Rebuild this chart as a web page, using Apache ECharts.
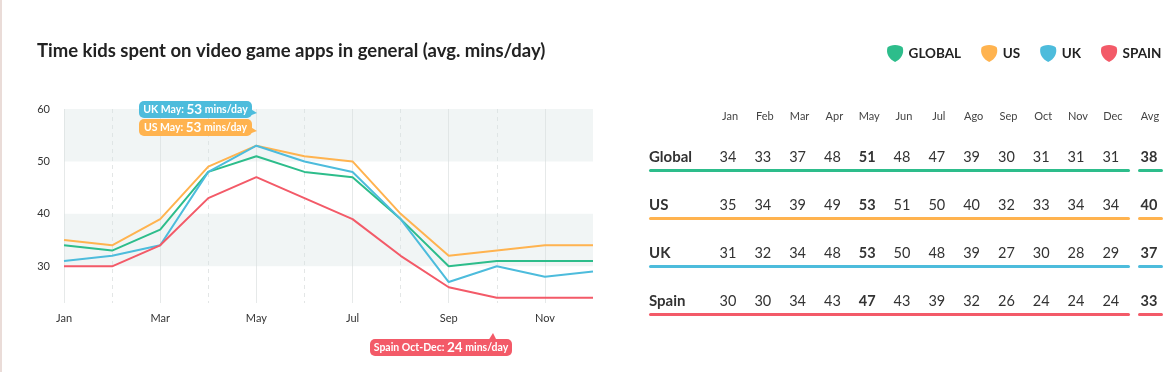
<!DOCTYPE html>
<html><head><meta charset="utf-8">
<script src="https://cdn.jsdelivr.net/npm/echarts@6/dist/echarts.min.js"></script>
<style>html,body{margin:0;padding:0;background:#fff}#c{width:1176px;height:372px}</style>
</head><body><div id="c"></div>
<script>
const axisMonths = ['Jan','Feb','Mar','Apr','May','Jun','Jul','Aug','Sep','Oct','Nov','Dec'];
const tableMonths = ['Jan','Feb','Mar','Apr','May','Jun','Jul','Ago','Sep','Oct','Nov','Dec'];
const seriesNames = ['GLOBAL','US','UK','SPAIN'];
const rowLabels = ['Global','US','UK','Spain'];
const globalData = [34,33,37,48,51,48,47,39,30,31,31,31];
const usData = [35,34,39,49,53,51,50,40,32,33,34,34];
const ukData = [31,32,34,48,53,50,48,39,27,30,28,29];
const spainData = [30,30,34,43,47,43,39,32,26,24,24,24];
const avgData = [38,40,37,33];
const yTicks = [30,40,50,60];
const colors = ['#2dbd8b','#ffb34f','#4dbcdc','#f35a68'];
const FONT = 'Lato';
const allData = [globalData, usData, ukData, spainData];

const blob = 'path://M2,4 C5,0 17,0 20,4 C22,11 18,18 11,21 C4,18 0,11 2,4 Z';

const graphic = [];
// left edge artifact
graphic.push({type:'rect', left:0, top:0, shape:{width:2, height:372}, style:{fill:'#eadcd8'}, silent:true});
// table header
const colX = i => 728 + i * 34.8;
tableMonths.forEach((m, i) => {
  graphic.push({type:'text', x: colX(i) + 2, y: 116, style:{text:m, font:'11px ' + FONT, fill:'#444', align:'center', verticalAlign:'middle'}});
});
graphic.push({type:'text', x: 1150, y: 116, style:{text:'Avg', font:'11px ' + FONT, fill:'#444', align:'center', verticalAlign:'middle'}});
const rowY = [157, 205, 253, 301];
rowLabels.forEach((lab, r) => {
  const y = rowY[r];
  graphic.push({type:'text', x: 649, y, style:{text:lab, font:'bold 15px ' + FONT, fill:'#333', align:'left', verticalAlign:'middle'}});
  allData[r].forEach((v, i) => {
    graphic.push({type:'text', x: colX(i), y, style:{text:String(v), font:(i === 4 ? 'bold ' : '') + '14.5px ' + FONT, fill:'#333', align:'center', verticalAlign:'middle'}});
  });
  graphic.push({type:'text', x: 1149, y, style:{text:String(avgData[r]), font:'bold 14.5px ' + FONT, fill:'#333', align:'center', verticalAlign:'middle'}});
  graphic.push({type:'rect', shape:{x:649, y:y + 12, width:481, height:3, r:1.5}, style:{fill:colors[r]}});
  graphic.push({type:'rect', shape:{x:1138, y:y + 12, width:25, height:3, r:1.5}, style:{fill:colors[r]}});
});
// callouts
function callout(x, y, w, pre, num, post, color, ptr) {
  graphic.push({type:'polygon', shape:{points:ptr}, style:{fill:color}, z:10});
  graphic.push({type:'rect', shape:{x, y, width:w, height:17, r:5}, style:{fill:color}, z:10});
  graphic.push({type:'text', x: x + w / 2, y: y + 9, z:11, style:{
    text:'{a|' + pre + '}{b|' + num + '}{a|' + post + '}', align:'center', verticalAlign:'middle',
    rich:{a:{font:'bold 10.5px ' + FONT, fill:'#fff'}, b:{font:'bold 13.5px ' + FONT, fill:'#fff'}}
  }});
}
callout(139, 101, 113, 'UK May: ', String(ukData[4]), ' mins/day', colors[2], [[249,108],[257,113],[249,116]]);
callout(139, 119, 113, 'US May: ', String(usData[4]), ' mins/day', colors[1], [[249,126],[257,131],[249,134]]);
callout(370, 339, 142, 'Spain Oct-Dec: ', String(spainData[11]), ' mins/day', colors[3], [[488,341],[493,333],[497,341]]);

const chart = echarts.init(document.getElementById('c'));
chart.setOption({
  animation:false,
  title:{text:'Time kids spent on video game apps in general (avg. mins/day)', left:37, top:42, padding:0,
    textStyle:{fontFamily:FONT, fontWeight:'bold', fontSize:18.5, color:'#222'}},
  legend:{left:887, top:45, padding:0, itemWidth:17, itemHeight:17, itemGap:20, icon:blob,
    data:seriesNames, textStyle:{fontFamily:FONT, fontWeight:'bold', fontSize:13.5, color:'#222'}},
  grid:{left:64, right:583, top:109, bottom:69},
  xAxis:[{type:'category', boundaryGap:false, data:axisMonths,
    axisLine:{show:false}, axisTick:{show:false},
    axisLabel:{interval:1, color:'#333', fontFamily:FONT, fontSize:11, margin:10},
    splitLine:{show:true, interval:(i) => i % 2 === 0, lineStyle:{color:'#e6e9e9', width:1}}},
    {type:'category', boundaryGap:false, data:axisMonths, position:'bottom',
    axisLine:{show:false}, axisTick:{show:false}, axisLabel:{show:false},
    splitLine:{show:true, interval:(i) => i % 2 === 1 && i < 11, lineStyle:{color:'#e3e6e6', width:1, type:[4,4]}}}],
  yAxis:{type:'value', min:23, max:60, axisLine:{show:false}, axisTick:{show:false}, splitLine:{show:false},
    axisLabel:{customValues:yTicks, color:'#333', fontFamily:FONT, fontSize:11, margin:14}},
  series:[
    {type:'line', name:'bands', data:[], silent:true, z:1,
      markArea:{silent:true, itemStyle:{color:'rgba(214,226,226,0.35)'}, data:[[{yAxis:50},{yAxis:60}],[{yAxis:30},{yAxis:40}]]}},
    ...seriesNames.map((n, k) => ({type:'line', name:n, data:allData[k], showSymbol:false, symbol:'none', z:3,
      lineStyle:{width:2, color:colors[k]}, itemStyle:{color:colors[k]}}))
  ],
  graphic
});
</script></body></html>
